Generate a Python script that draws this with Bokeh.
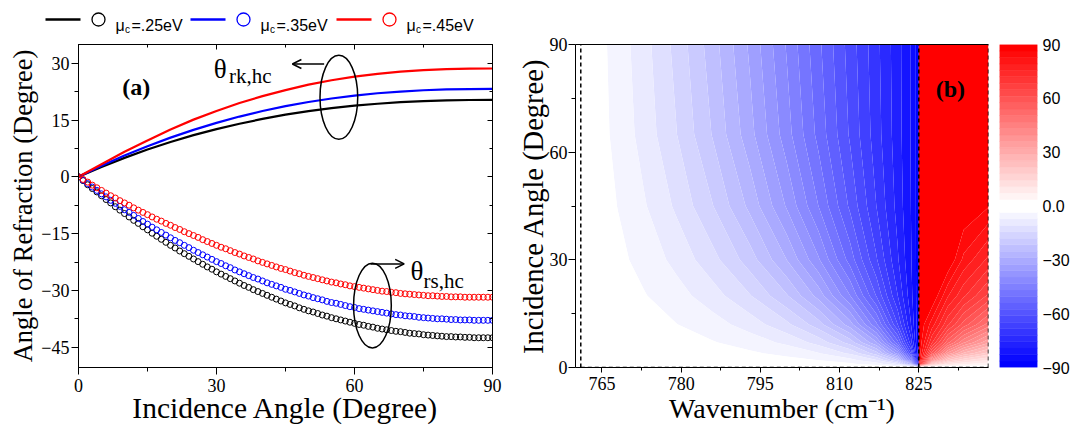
import numpy as np
from bokeh.plotting import figure
from bokeh.layouts import row, column
from bokeh.models import Range1d, FixedTicker, LinearAxis, Arrow, OpenHead, ColumnDataSource
from bokeh.core.properties import value
from bokeh.embed import file_html
from bokeh.resources import INLINE

# ---------------- data: panel (a) ----------------
inc_markers = list(range(0, 91))           # incidence angle (deg) for circle markers
inc_lines = list(range(0, 91, 5))          # incidence angle (deg) for solid lines

# theta_rk,hc (solid lines)
rk_025 = [0, 2.6, 5.0, 7.2, 9.2, 11.0, 12.6, 14.0, 15.3, 16.4, 17.35, 18.15, 18.8, 19.3, 19.7, 20.0, 20.18, 20.28, 20.3]
rk_035 = [0, 2.92, 5.61, 8.08, 10.35, 12.40, 14.25, 15.91, 17.37, 18.65, 19.75, 20.68, 21.45, 22.06, 22.52, 22.86, 23.07, 23.17, 23.2]
rk_045 = [0, 3.3, 6.6, 9.6, 12.5, 15.1, 17.4, 19.5, 21.3, 22.9, 24.35, 25.49, 26.44, 27.19, 27.77, 28.18, 28.44, 28.57, 28.6]

# theta_rs,hc (open circles)
rs_025 = [0, -1.0, -2.1, -3.1, -4.0, -5.0, -6.0, -6.9, -7.9, -8.8,
          -9.7, -10.6, -11.5, -12.3, -13.2, -14.0, -14.9, -15.7, -16.5, -17.3,
          -18.1, -18.8, -19.6, -20.3, -21.0, -21.7, -22.4, -23.1, -23.8, -24.4,
          -25.1, -25.7, -26.3, -26.9, -27.5, -28.1, -28.7, -29.2, -29.8, -30.3,
          -30.8, -31.3, -31.8, -32.3, -32.8, -33.3, -33.7, -34.1, -34.6, -35.0,
          -35.4, -35.7, -36.1, -36.5, -36.8, -37.2, -37.5, -37.8, -38.1, -38.4,
          -38.7, -39.0, -39.2, -39.5, -39.7, -40.0, -40.2, -40.4, -40.6, -40.8,
          -40.9, -41.1, -41.3, -41.4, -41.5, -41.7, -41.8, -41.9, -42.0, -42.1,
          -42.2, -42.2, -42.3, -42.3, -42.4, -42.4, -42.5, -42.5, -42.5, -42.5,
          -42.5]
rs_035 = [0, -0.9, -1.8, -2.7, -3.6, -4.5, -5.3, -6.2, -7.0, -7.8,
          -8.7, -9.4, -10.2, -11.0, -11.8, -12.5, -13.3, -14.0, -14.7, -15.4,
          -16.1, -16.8, -17.4, -18.1, -18.7, -19.4, -20.0, -20.6, -21.2, -21.8,
          -22.4, -22.9, -23.5, -24.0, -24.6, -25.1, -25.6, -26.1, -26.6, -27.0,
          -27.5, -28.0, -28.4, -28.8, -29.2, -29.7, -30.0, -30.4, -30.8, -31.2,
          -31.5, -31.9, -32.2, -32.5, -32.9, -33.2, -33.4, -33.7, -34.0, -34.3,
          -34.5, -34.8, -35.0, -35.2, -35.4, -35.6, -35.8, -36.0, -36.2, -36.4,
          -36.5, -36.7, -36.8, -36.9, -37.1, -37.2, -37.3, -37.4, -37.5, -37.5,
          -37.6, -37.7, -37.7, -37.8, -37.8, -37.8, -37.9, -37.9, -37.9, -37.9,
          -37.9]
rs_045 = [0, -0.7, -1.4, -2.2, -2.9, -3.6, -4.3, -5.0, -5.6, -6.3,
          -6.9, -7.5, -8.2, -8.8, -9.4, -10.0, -10.6, -11.2, -11.7, -12.3,
          -12.8, -13.4, -13.9, -14.5, -15.0, -15.5, -16.0, -16.6, -17.1, -17.6,
          -18.1, -18.6, -19.0, -19.5, -20.0, -20.4, -20.9, -21.3, -21.7, -22.2,
          -22.6, -23.0, -23.4, -23.8, -24.2, -24.5, -24.9, -25.3, -25.6, -26.0,
          -26.3, -26.6, -26.9, -27.2, -27.5, -27.8, -28.0, -28.3, -28.5, -28.8,
          -29.0, -29.2, -29.4, -29.6, -29.8, -30.0, -30.2, -30.3, -30.5, -30.6,
          -30.8, -30.9, -31.0, -31.1, -31.2, -31.3, -31.4, -31.4, -31.5, -31.6,
          -31.6, -31.7, -31.7, -31.7, -31.8, -31.8, -31.8, -31.8, -31.8, -31.8,
          -31.8]

mu_labels = [".25", ".35", ".45"]
series_colors = ["black", "blue", "red"]

# ---------------- data: panel (b) ----------------
inc_grid = [0, 1, 2, 4, 7, 12, 20, 30, 45, 65, 90]
wn_blue = [761, 764, 768, 773, 779, 786, 793, 800, 806, 812, 817, 821, 823.5, 824.5, 825]
theta_blue = [
    [0]*15,
    [0, -0.04, -0.09, -0.17, -0.29, -0.48, -0.75, -1.17, -1.77, -2.94, -5.23, -11.09, -28.53, -65.55, -90],
    [0, -0.07, -0.18, -0.35, -0.59, -0.96, -1.50, -2.33, -3.54, -5.85, -10.36, -21.35, -47.21, -76.89, -90],
    [0, -0.15, -0.37, -0.69, -1.17, -1.92, -2.99, -4.65, -7.04, -11.55, -19.99, -37.76, -64.62, -82.76, -90],
    [0, -0.26, -0.64, -1.20, -2.04, -3.34, -5.20, -8.07, -12.13, -19.53, -32.14, -52.89, -73.92, -85.02, -90],
    [0, -0.44, -1.09, -2.05, -3.47, -5.67, -8.79, -13.51, -19.94, -30.74, -46.12, -64.78, -79.01, -86.01, -90],
    [0, -0.72, -1.80, -3.36, -5.68, -9.21, -14.11, -21.21, -30.15, -43.14, -57.89, -71.93, -81.43, -86.40, -90],
    [0, -1.05, -2.62, -4.89, -8.20, -13.16, -19.79, -28.81, -39.07, -51.97, -64.45, -75.14, -82.35, -86.53, -90],
    [0, -1.48, -3.68, -6.83, -11.35, -17.89, -26.14, -36.41, -46.81, -58.36, -68.47, -76.85, -82.79, -86.59, -90],
    [0, -1.90, -4.68, -8.63, -14.17, -21.89, -31.07, -41.64, -51.51, -61.73, -70.37, -77.60, -82.97, -86.61, -90],
    [0, -2.09, -5.15, -9.45, -15.42, -23.58, -33.03, -43.56, -53.12, -62.81, -70.94, -77.81, -83.03, -86.62, -90],
]
wn_red = [825, 827.5, 830.5, 833.5, 838.2]
theta_red = [
    [0, 0, 0, 0, 0],
    [90, 22.76, 11.26, 7.66, 5.27],
    [90, 40.11, 21.76, 15.06, 10.45],
    [90, 59.70, 38.79, 28.40, 20.31],
    [90, 72.31, 55.12, 43.78, 33.14],
    [90, 81.00, 69.08, 59.63, 48.89],
    [90, 90, 79.54, 72.68, 63.98],
    [90, 90, 90, 81.84, 74.68],
    [90, 90, 90, 90, 86.68],
    [90, 90, 90, 90, 90],
    [90, 90, 90, 90, 90],
]
band_edges = [761, 825]          # TO / LO boundaries (dashed)
wn_min, wn_max = 760, 838.2
cbar_ticks = [-90, -60, -30, 0, 30, 60, 90]

# ---------------- styling helpers ----------------
SERIF = "Liberation Serif"
SANS = "Liberation Sans"
n_bands = 25
lv_blue = list(np.linspace(-90, 0, n_bands + 1))
lv_red = list(np.linspace(0, 90, n_bands + 1))
blue_cols = []
red_cols = []
for i in range(n_bands):
    t = i / (n_bands - 1)
    c = int(round(255 * t))
    blue_cols.append("#%02x%02xff" % (c, c))
    c2 = int(round(255 * (1 - t)))
    red_cols.append("#ff%02x%02x" % (c2, c2))


def style_axis(ax, label_size="28px"):
    ax.axis_label_text_font = SERIF
    ax.axis_label_text_font_size = label_size
    ax.axis_label_text_font_style = "normal"
    ax.axis_label_text_color = "black"
    ax.axis_label_standoff = 0
    ax.major_label_text_font = SERIF
    ax.major_label_text_font_size = "18px"
    ax.major_label_text_font_style = "normal"
    ax.major_label_text_color = "black"
    ax.axis_line_color = "black"
    ax.major_tick_line_color = "black"
    ax.minor_tick_line_color = "black"
    ax.major_tick_out = 7
    ax.major_tick_in = 0
    ax.minor_tick_out = 4
    ax.minor_tick_in = 0


def mirror_axis(ticks, minor):
    return LinearAxis(ticker=FixedTicker(ticks=ticks, minor_ticks=minor),
                      major_label_overrides={t: "" for t in ticks},
                      major_label_text_font_size="1px", major_label_standoff=0,
                      major_tick_in=5, major_tick_out=0, minor_tick_in=3, minor_tick_out=0,
                      axis_line_color="black", major_tick_line_color="black",
                      minor_tick_line_color="black")

# ---------------- legend strip (full width, pixel coordinates) ----------------
leg = figure(width=1072, height=34, x_range=Range1d(0, 1072), y_range=Range1d(0, 34),
             output_backend="svg", toolbar_location=None, min_border=0,
             min_border_left=0, min_border_right=0, min_border_top=0, min_border_bottom=0)
leg.axis.visible = False
leg.grid.visible = False
leg.outline_line_color = None
leg_x0 = [45, 190, 336]
for x0, col, mu in zip(leg_x0, series_colors, mu_labels):
    leg.line([x0, x0 + 35], [15, 15], line_color=col, line_width=2.5)
    leg.scatter([x0 + 53], [15], marker="circle", size=13, fill_color=None, line_color=col, line_width=1.3)
    leg.text([x0 + 70], [9], text=["\u03bc"], text_font=value(SANS), text_font_size="16px",
             text_color="black", text_baseline="alphabetic")
    leg.text([x0 + 79.5], [5.5], text=["c"], text_font=value(SANS), text_font_size="10px",
             text_color="black", text_baseline="alphabetic")
    leg.text([x0 + 86], [9], text=["=" + mu + "eV"], text_font=value(SANS), text_font_size="16px",
             text_color="black", text_baseline="alphabetic")

# ---------------- panel (a) ----------------
pa = figure(width=511, height=394, x_range=Range1d(0, 90), y_range=Range1d(-50.36, 34.94),
            output_backend="svg", toolbar_location=None,
            min_border_left=78, min_border_right=19, min_border_top=10, min_border_bottom=61)
pa.grid.visible = False
pa.outline_line_color = "black"
pa.xaxis.ticker = FixedTicker(ticks=[0, 30, 60, 90], minor_ticks=[15, 45, 75])
pa.yaxis.ticker = FixedTicker(ticks=[-45, -30, -15, 0, 15, 30], minor_ticks=[-37.5, -22.5, -7.5, 7.5, 22.5])
pa.xaxis.axis_label = "Incidence Angle (Degree)"
pa.yaxis.axis_label = "Angle of Refraction (Degree)"
style_axis(pa.xaxis[0], "29.5px")
style_axis(pa.yaxis[0], "26.5px")
pa.xaxis[0].major_label_standoff = 4
pa.xaxis[0].axis_label_standoff = -3
pa.yaxis[0].major_label_standoff = 2
pa.add_layout(mirror_axis([0, 30, 60, 90], [15, 45, 75]), "above")
pa.add_layout(mirror_axis([-45, -30, -15, 0, 15, 30], [-37.5, -22.5, -7.5, 7.5, 22.5]), "right")

for ys, col in zip([rk_025, rk_035, rk_045], series_colors):
    pa.line(inc_lines, ys, line_color=col, line_width=2.2)
for ys, col in zip([rs_025, rs_035, rs_045], series_colors):
    pa.scatter(inc_markers, ys, marker="circle", size=6, fill_color=None, line_color=col, line_width=1)

pa.ellipse(x=[56.6, 63.9], y=[21.0, -34.0], width=[8.2, 8.2], height=[22.2, 22.4],
           fill_color=None, line_color="black", line_width=1.5)
pa.add_layout(Arrow(end=OpenHead(size=9, line_width=1.5, line_color="black"),
                    x_start=53.4, y_start=29.8, x_end=46.5, y_end=29.8, line_width=1.5))
pa.add_layout(Arrow(end=OpenHead(size=9, line_width=1.5, line_color="black"),
                    x_start=63.5, y_start=-23.0, x_end=70.8, y_end=-23.0, line_width=1.5))
pa.text([9.5], [23.8], text=["(a)"], text_font=value(SERIF), text_font_size="24px",
        text_font_style="bold", text_color="black", text_baseline="alphabetic")
pa.text([29.4], [28.5], text=["\u03b8"], text_font=value(SERIF), text_font_size="27px",
        text_color="black", text_baseline="alphabetic")
pa.text([32.7], [26.7], text=["rk,hc"], text_font=value(SERIF), text_font_size="21px",
        text_color="black", text_baseline="alphabetic")
pa.text([72.2], [-25.0], text=["\u03b8"], text_font=value(SERIF), text_font_size="27px",
        text_color="black", text_baseline="alphabetic")
pa.text([75.0], [-27.4], text=["rs,hc"], text_font=value(SERIF), text_font_size="21px",
        text_color="black", text_baseline="alphabetic")

# ---------------- panel (b) ----------------
pb = figure(width=482, height=394, x_range=Range1d(wn_min, wn_max), y_range=Range1d(0, 90),
            output_backend="svg", toolbar_location=None,
            min_border_left=64, min_border_right=5, min_border_top=10, min_border_bottom=61)
pb.grid.visible = False
pb.outline_line_color = None
pb.xaxis.ticker = FixedTicker(ticks=[765, 780, 795, 810, 825], minor_ticks=[772.5, 787.5, 802.5, 817.5, 832.5])
pb.yaxis.ticker = FixedTicker(ticks=[0, 30, 60, 90], minor_ticks=[15, 45, 75])
pb.xaxis.axis_label = "Wavenumber (cm\u207b\u00b9)"
pb.yaxis.axis_label = "Incidence Angle (Degree)"
style_axis(pb.xaxis[0])
style_axis(pb.yaxis[0], "28.5px")
pb.xaxis[0].major_tick_out = 5
pb.xaxis[0].minor_tick_out = 3
pb.xaxis[0].major_label_standoff = 4
pb.yaxis[0].major_label_standoff = 1
pb.yaxis[0].axis_label_standoff = -2
top_b = LinearAxis(ticker=FixedTicker(ticks=[]), major_label_standoff=0,
                   major_tick_out=0, minor_tick_out=0, axis_line_color="black")
pb.add_layout(top_b, "above")

lb = list(lv_blue)
lb[0] -= 0.01
lb[-1] += 0.01
lr = list(lv_red)
lr[0] -= 0.01
lr[-1] += 0.01
pb.contour(x=np.array(wn_blue, dtype=float), y=np.array(inc_grid, dtype=float),
           z=np.array(theta_blue, dtype=float), levels=lb, fill_color=blue_cols, line_color=None)
pb.contour(x=np.array(wn_red, dtype=float), y=np.array(inc_grid, dtype=float),
           z=np.array(theta_red, dtype=float), levels=lr, fill_color=red_cols, line_color=None)

dash_x = band_edges + [wn_max]
pb.segment(x0=dash_x, y0=[0] * len(dash_x), x1=dash_x, y1=[90] * len(dash_x),
           line_color="black", line_width=1.5, line_dash="4 3")
pb.line([band_edges[0], wn_max], [0, 0], line_color="black", line_width=1.5, line_dash="4 3")
pb.text([828.2], [77.7], text=["(b)"], text_font=value(SERIF), text_font_size="24px",
        text_font_style="bold", text_color="black", text_baseline="alphabetic")

# ---------------- colour bar ----------------
cb = figure(width=79, height=394, x_range=Range1d(0, 1), y_range=Range1d(-90, 90),
            y_axis_location="right", output_backend="svg", toolbar_location=None,
            min_border_left=6, min_border_right=31, min_border_top=10, min_border_bottom=61)
cb.grid.visible = False
cb.xaxis.visible = False
cb.outline_line_color = None
cb_src = ColumnDataSource(dict(bottom=lv_blue[:-1] + lv_red[:-1], top=lv_blue[1:] + lv_red[1:],
                               color=blue_cols + red_cols))
cb.quad(left=0, right=1, bottom="bottom", top="top", fill_color="color", line_color="color",
        line_width=0.5, source=cb_src)
yax = cb.yaxis[0]
yax.ticker = FixedTicker(ticks=cbar_ticks, minor_ticks=[])
yax.major_label_overrides = {0: "0.0"}
yax.major_label_text_font = SANS
yax.major_label_text_font_size = "16px"
yax.major_label_text_color = "black"
yax.major_label_standoff = 5
yax.major_tick_out = 0
yax.major_tick_in = 0
yax.minor_tick_out = 0
yax.minor_tick_in = 0
yax.axis_line_color = None

layout = column(leg, row(pa, pb, cb, spacing=0), spacing=0)
open("out.html", "w").write(file_html(layout, INLINE))
